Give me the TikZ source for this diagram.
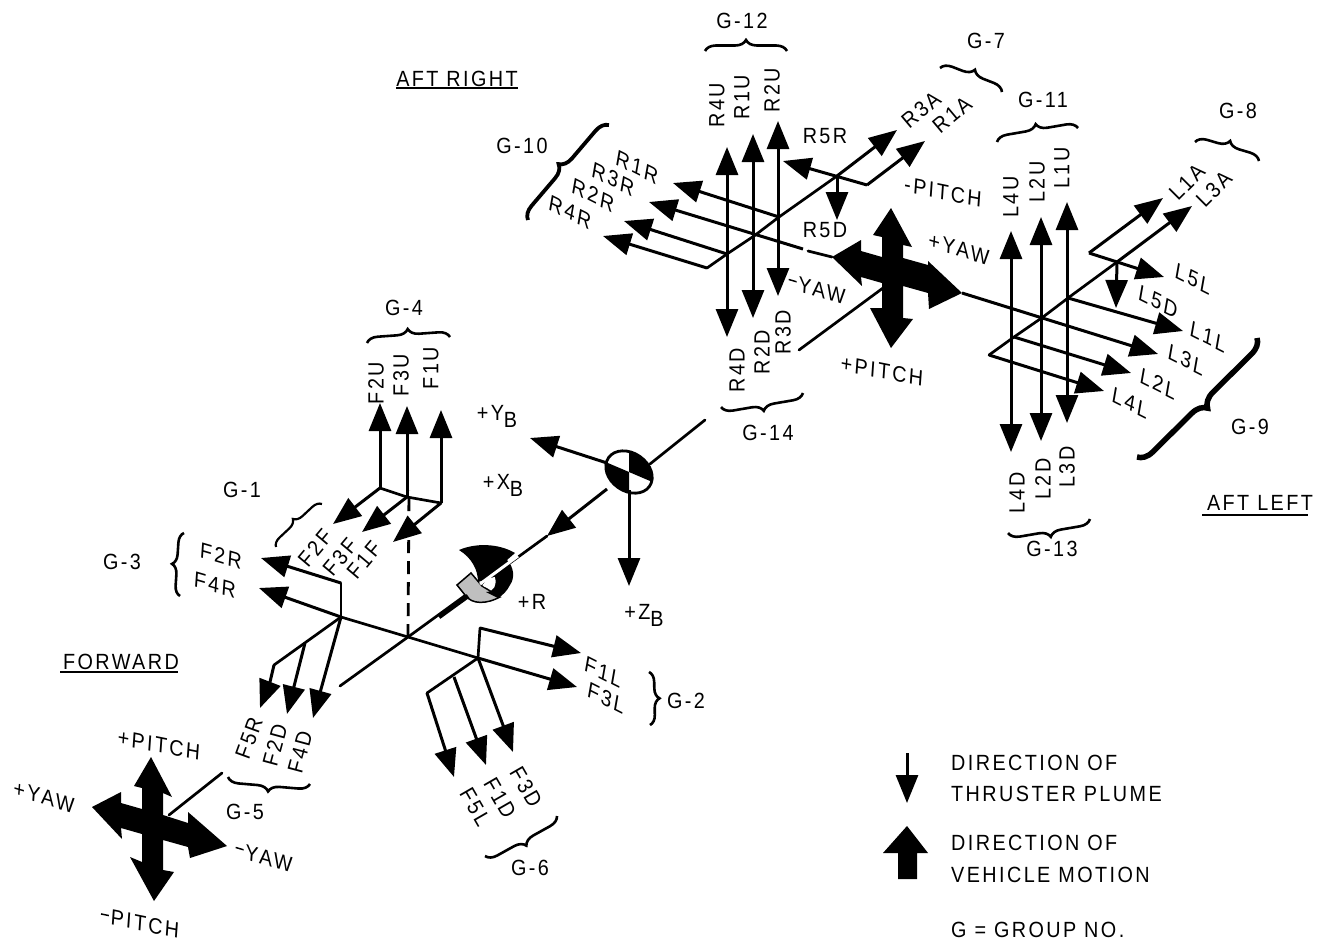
\documentclass[tikz,border=0pt]{standalone}
\usepackage{fontspec}
\setmainfont{Liberation Sans}[LetterSpace=11,FakeStretch=0.9]
\usetikzlibrary{arrows.meta,decorations.pathreplacing}
\tikzset{
 hd/.tip={Triangle[length=28pt,width=22pt]},
 thr/.style={line width=3pt,-hd},
 dbl/.style={line width=3pt,hd-hd},
 ln/.style={line width=2.7pt,line cap=round},
 lb/.style={inner sep=0pt,font=\fontsize{22}{24}\selectfont},
 up/.style={lb,rotate=90},
 skp/.style={lb,rotate=-4,yslant=-0.13},
 sky/.style={lb,rotate=-4,yslant=-0.22},
 skb/.style={lb,rotate=-10,yslant=-0.3},
 br/.style={line width=2.6pt,decorate,decoration={brace,amplitude=#1,aspect=0.5}},
 ul/.style={line width=2.2pt}
}
\newcommand{\subB}[1]{\raisebox{-7pt}{#1}}
\newcommand{\mns}{\raisebox{8pt}{\rule{8pt}{1.5pt}}\hspace{2pt}}
\begin{document}
\begin{tikzpicture}[x=1pt,y=-1pt]
\useasboundingbox (0,0) rectangle (1325,943);
\foreach \n/\x/\y in {
 ra/897/130,rb/837/176,rc/779/217,rd/754/236,re/727/254,rf/707/268,
 r4r/603/236,r2r/624/221,r3r/649/202,r3e/803/249,r3f/808/251,ry/832/257,r1r/673/183,
 rg/867/185,r1a/925/141,r5r/783/161,r5d/837/220,
 r4t/727/147,r4b/727/337,r1t/753/134,r1b/753/318,r2t/778/121,r2b/778/296,
 pa/799/350,pb/883/288,
 ya/962/293,l3l/1158/354,
 l3a/1192/206,lb1/1117/262,lc/1068/298,ld/1043/317,le/1014/337,lf/989/355,
 l4l/1104/391,l2l/1131/373,l1l/1183/331,lg/1089/253,l1a/1163/198,l5l/1164/277,l5d/1116/308,
 l4t/1011/231,l4b/1011/452,l2t/1041/217,l2b/1041/441,l1t/1067/202,l1b/1067/423,
 ax/705/420,cg/629/472,xt/547/536,xa/512/560,c0/408/637,axe/340/686,
 yt/530/438,zs/629/490,zt/629/586,
 f4r/259/588,fa/341/617,fb/478/658,f3l/577/687,fc/341/583,f2r/261/558,fd/480/628,f1l/581/653,
 dt/409/490,
 f2u/380/403,f2b/380/488,f3u/407/406,f3b/407/497,f1u/441/410,f1b/441/503,
 f2f/333/524,f3f/362/532,f1f/393/542,
 fe/274/665,ff/270/682,f5r/260/708,fg/305/643,f2d/287/714,f4d/313/718,
 fh/427/693,f5l/454/777,fi/454/677,f1d/486/765,f3d/513/752,
 qa/222/773,qb/169/815,
 lga/907/753,lgb/907/803,
 u1a/396/88,u1b/518/88,u2a/60/672,u2b/178/672,u3a/1202/515,u3b/1308/515
} \coordinate (\n) at (\x,\y);

% CG symbol
\begin{scope}
 \clip[rotate around={-35:(cg)}] (cg) ellipse [x radius=25pt,y radius=19pt];
 \fill (cg) -- (629,440) -- (690,440) -- (690,498) -- cycle;
 \fill (cg) -- (575,449) -- (575,520) -- (629,520) -- cycle;
\end{scope}
\draw[line width=2.8pt,rotate around={-35:(cg)}] (cg) ellipse [x radius=25pt,y radius=19pt];
% forward section
\draw[ln] (ax) -- (650,464);
\draw[thr] (607,489) -- (xt);
\draw[ln] (xt) -- (c0) -- (axe);
\draw[thr] (607,463) -- (yt);
\draw[thr] (zs) -- (zt);
\draw[thr] (fa) -- (f4r);
\draw[ln] (fa) -- (c0) -- (fb);
\draw[thr] (fb) -- (f3l);
\draw[ln] (fa) -- (fc);
\draw[thr] (fc) -- (f2r);
\draw[ln] (fb) -- (fd);
\draw[thr] (fd) -- (f1l);
\draw[line width=2.8pt,dash pattern=on 13pt off 8pt] (c0) -- (dt);
\draw[thr] (f2b) -- (f2u);
\draw[thr] (f3b) -- (f3u);
\draw[thr] (f1b) -- (f1u);
\draw[ln] (f2b) -- (f3b) -- (f1b);
\draw[thr] (f2b) -- (f2f);
\draw[thr] (f3b) -- (f3f);
\draw[thr] (f1b) -- (f1f);
\draw[ln] (fa) -- (fe);
\draw[thr] (fe) -- (ff) -- (f5r);
\draw[thr] (fg) -- (f2d);
\draw[thr] (fa) -- (f4d);
\draw[ln] (fb) -- (fh);
\draw[thr] (fh) -- (f5l);
\draw[thr] (fi) -- (f1d);
\draw[thr] (fb) -- (f3d);
\draw[ln] (qa) -- (qb);
% rotation symbol
\draw[fill=black!25,line width=1.5pt] (457,585) -- (471,573) -- (482,586) -- (500,597) .. controls (487,604) and (472,605) .. (465,595) -- cycle;
\fill (459,550) .. controls (475,543) and (498,543) .. (515,553) -- (507,560) .. controls (514,567) and (515,578) .. (510,585) .. controls (507,591) and (503,595) .. (498,598) -- (486,592) .. controls (494,592) and (497,585) .. (495,577) -- (478,582) .. controls (478,570) and (472,558) .. (459,550) -- cycle;
\fill[white] (483,586) .. controls (490,590) and (495,586) .. (495,577) -- (486,579) -- cycle;
\draw[white,line width=3pt] (480,584) -- (518,556);
\draw[line width=4.5pt] (439,617) -- (468,596);
% aft right
\draw[thr] (rb) -- (ra);
\draw[ln] (rb) -- (rc) -- (rd) -- (re) -- (rf);
\draw[thr] (rf) -- (r4r);
\draw[thr] (re) -- (r2r);
\draw[thr] (r3e) -- (r3r);
\draw[ln] (r3f) -- (ry);
\draw[thr] (rc) -- (r1r);
\draw[thr] (rg) -- (r1a);
\draw[thr] (rg) -- (r5r);
\draw[thr] (rb) -- (r5d);
\draw[dbl] (r4t) -- (r4b);
\draw[dbl] (r1t) -- (r1b);
\draw[dbl] (r2t) -- (r2b);
\draw[ln] (pa) -- (pb);
% aft cross
\fill (891,208) -- (912,247) -- (903,245) -- (903,258) -- (928,265) -- (928,261) -- (962,293) -- (929,309) -- (928,293) -- (903,286) -- (903,318) -- (913,319) -- (891,348) -- (870,308) -- (882,308) -- (882,283) -- (861,277) -- (862,286) -- (832,257) -- (861,240) -- (861,251) -- (882,257) -- (882,237) -- (873,235) -- cycle;
% aft left
\draw[thr] (ya) -- (l3l);
\draw[thr] (lb1) -- (l3a);
\draw[ln] (lb1) -- (lc) -- (ld) -- (le) -- (lf);
\draw[thr] (lf) -- (l4l);
\draw[thr] (le) -- (l2l);
\draw[thr] (lc) -- (l1l);
\draw[thr] (lg) -- (l1a);
\draw[thr] (lg) -- (l5l);
\draw[thr] (lb1) -- (l5d);
\draw[dbl] (l4t) -- (l4b);
\draw[dbl] (l2t) -- (l2b);
\draw[dbl] (l1t) -- (l1b);
% forward cross
\fill (151,757) -- (172,797) -- (163,793) -- (163,815) -- (188,823) -- (188,812) -- (227,846) -- (190,858) -- (188,847) -- (163,840) -- (163,870) -- (174,872) -- (154,901) -- (130,857) -- (142,862) -- (142,834) -- (121,828) -- (122,839) -- (92,807) -- (121,792) -- (121,803) -- (142,809) -- (142,788) -- (134,786) -- cycle;
\draw[thr] (lga) -- (lgb);
\fill (907,826) -- (928,853) -- (917,853) -- (917,879) -- (898,879) -- (898,853) -- (883,853) -- cycle;
% underlines
\draw[ul] (u1a) -- (u1b);
\draw[ul] (u2a) -- (u2b);
\draw[ul] (u3a) -- (u3b);
% braces
\draw[br=11pt] (705,51) -- (787,51);
\draw[br=11pt] (940,68) -- (1002,92);
\draw[br=11pt] (997,142) -- (1078,128);
\draw[br=11pt] (1195,142) -- (1259,161);
\draw[br=13pt,line width=3.8pt] (528,220) -- (609,125);
\draw[br=15pt,line width=5.5pt] (1257,338) -- (1137,457);
\draw[br=11pt] (803,393) -- (721,407);
\draw[br=11pt] (1090,519) -- (1008,533);
\draw[br=11pt] (367,343) -- (450,337);
\draw[br=9pt,line width=2.2pt] (276,547) -- (322,504);
\draw[br=10pt] (180,596) -- (184,533);
\draw[br=10pt] (649,672) -- (650,725);
\draw[br=11pt] (310,784) -- (228,777);
\draw[br=11pt] (557,816) -- (485,856);
% texts
\node[lb] (tAR) at (457,79) {AFT RIGHT};
\node[lb] (tF) at (121,662) {FORWARD};
\node[lb] (tAL) at (1260,503) {AFT LEFT};
\node[lb] (g12) at (742,21) {G-12};
\node[lb] (g7) at (986,41) {G-7};
\node[lb] (g11) at (1043,100) {G-11};
\node[lb] (g8) at (1238,111) {G-8};
\node[lb] (g10) at (522,146) {G-10};
\node[lb] (g9) at (1250,427) {G-9};
\node[lb] (g14) at (768,433) {G-14};
\node[lb] (g13) at (1052,549) {G-13};
\node[lb] (g4) at (404,308) {G-4};
\node[lb] (g1) at (242,490) {G-1};
\node[lb] (g3) at (122,562) {G-3};
\node[lb] (g2) at (686,701) {G-2};
\node[lb] (g5) at (245,812) {G-5};
\node[lb] (g6) at (530,868) {G-6};
\node[up] (tR4U) at (717,105) {R4U};
\node[up] (tR1U) at (742,97) {R1U};
\node[up] (tR2U) at (772,90) {R2U};
\node[lb,rotate=40] (tR3A) at (921,110) {R3A};
\node[lb,rotate=40] (tR1A) at (952,115) {R1A};
\node[skb] (tR1R) at (637,167) {R1R};
\node[skb] (tR3R) at (613,179) {R3R};
\node[skb] (tR2R) at (593,195) {R2R};
\node[skb] (tR4R) at (570,212) {R4R};
\node[lb] (tR5R) at (825,136) {R5R};
\node[lb] (tR5D) at (825,230) {R5D};
\node[skp] (tmP) at (943,192) {-PITCH};
\node[sky] (tmY) at (817,289) {\mns YAW};
\node[sky] (tpY) at (959,249) {+YAW};
\node[skp] (tpP) at (882,371) {+PITCH};
\node[up] (tR4D) at (737,370) {R4D};
\node[up] (tR2D) at (762,352) {R2D};
\node[up] (tR3D) at (783,332) {R3D};
\node[up] (tL4U) at (1011,197) {L4U};
\node[up] (tL2U) at (1037,182) {L2U};
\node[up] (tL1U) at (1062,168) {L1U};
\node[up] (tL4D) at (1017,493) {L4D};
\node[up] (tL2D) at (1043,479) {L2D};
\node[up] (tL3D) at (1067,467) {L3D};
\node[lb,rotate=45] (tL1A) at (1187,182) {L1A};
\node[lb,rotate=45] (tL3A) at (1214,189) {L3A};
\node[skb] (tL5L) at (1193,279) {L5L};
\node[skb] (tL5D) at (1158,302) {L5D};
\node[skb] (tL1L) at (1208,337) {L1L};
\node[skb] (tL3L) at (1186,360) {L3L};
\node[skb] (tL2L) at (1158,384) {L2L};
\node[skb] (tL4L) at (1130,403) {L4L};
\node[up] (tF2U) at (376,383) {F2U};
\node[up] (tF3U) at (401,375) {F3U};
\node[up] (tF1U) at (431,368) {F1U};
\node[lb,rotate=50] (tF2F) at (315,548) {F2F};
\node[lb,rotate=50] (tF3F) at (340,557) {F3F};
\node[lb,rotate=50] (tF1F) at (364,560) {F1F};
\node[sky] (tF2R) at (221,556) {F2R};
\node[sky] (tF4R) at (215,585) {F4R};
\node[skb] (tF1L) at (603,672) {F1L};
\node[skb] (tF3L) at (606,698) {F3L};
\node[lb] (tYB) at (497,416) {+Y\subB{B}};
\node[lb] (tXB) at (503,485) {+X\subB{B}};
\node[lb] (tRp) at (532,602) {+R};
\node[lb] (tZB) at (644,615) {+Z\subB{B}};
\node[lb,rotate=70] (tF5R) at (249,738) {F5R};
\node[lb,rotate=75] (tF2D) at (275,745) {F2D};
\node[lb,rotate=75] (tF4D) at (300,752) {F4D};
\node[lb,rotate=-60] (tF3D) at (526,787) {F3D};
\node[lb,rotate=-60] (tF1D) at (500,798) {F1D};
\node[lb,rotate=-60] (tF5L) at (475,807) {F5L};
\node[skp] (tfpP) at (159,745) {+PITCH};
\node[sky] (tfpY) at (44,797) {+YAW};
\node[sky] (tfmY) at (264,857) {\mns YAW};
\node[skp] (tfmP) at (140,923) {\mns PITCH};
\node[lb,anchor=west] (k1) at (951,763) {DIRECTION OF};
\node[lb,anchor=west] (k2) at (951,794) {THRUSTER PLUME};
\node[lb,anchor=west] (k3) at (951,843) {DIRECTION OF};
\node[lb,anchor=west] (k4) at (951,875) {VEHICLE MOTION};
\node[lb,anchor=west] (k5) at (951,930) {G = GROUP NO.};
\end{tikzpicture}
\end{document}
